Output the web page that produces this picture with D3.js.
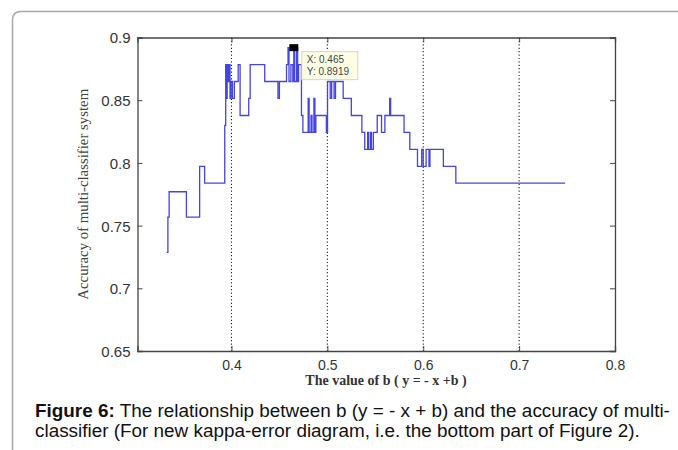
<!DOCTYPE html>
<html>
<head>
<meta charset="utf-8">
<script src="https://cdn.jsdelivr.net/npm/d3@7"></script>
<style>
  body { margin: 0; background: #fff; }
  svg { display: block; }
</style>
</head>
<body>
<div id="chart"></div>
<script>
"use strict";

/********/
/* data */
/********/

// b (y = -x + b) where the accuracy changes, and the accuracy from there on
const bValues = [
  0.3324, 0.3337, 0.3350, 0.3530, 0.3668, 0.3720, 0.3930, 0.3940, 0.3950, 0.3955,
  0.3965, 0.3975, 0.3985, 0.3995, 0.4010, 0.4030, 0.4070, 0.4090, 0.4180, 0.4195,
  0.4347, 0.4485, 0.4500, 0.4574, 0.4590, 0.4600, 0.4620, 0.4640, 0.4650, 0.4660,
  0.4680, 0.4690, 0.4700, 0.4730, 0.4745, 0.4800, 0.4810, 0.4830, 0.4840, 0.4860,
  0.4870, 0.4880, 0.4990, 0.5002, 0.5030, 0.5045, 0.5070, 0.5085, 0.5165, 0.5250,
  0.5360, 0.5390, 0.5420, 0.5430, 0.5450, 0.5460, 0.5480, 0.5520, 0.5565, 0.5600,
  0.5650, 0.5660, 0.5800, 0.5860, 0.5940, 0.5984, 0.6000, 0.6030, 0.6060, 0.6070,
  0.6210, 0.6340, 0.7480
];
const accuracy = [
  0.7286, 0.7568, 0.7770, 0.7568, 0.7973, 0.7838, 0.8300, 0.8784, 0.8514, 0.8784,
  0.8649, 0.8784, 0.8514, 0.8649, 0.8514, 0.8649, 0.8784, 0.8378, 0.8514, 0.8784,
  0.8649, 0.8514, 0.8649, 0.8784, 0.8919, 0.8649, 0.8784, 0.8649, 0.8919, 0.8649,
  0.8919, 0.8649, 0.8784, 0.8378, 0.8243, 0.8514, 0.8243, 0.8378, 0.8243, 0.8514,
  0.8243, 0.8378, 0.8243, 0.8649, 0.8514, 0.8649, 0.8514, 0.8649, 0.8514, 0.8378,
  0.8243, 0.8108, 0.8243, 0.8108, 0.8243, 0.8108, 0.8243, 0.8378, 0.8243, 0.8378,
  0.8514, 0.8378, 0.8243, 0.8108, 0.7973, 0.8108, 0.7973, 0.8108, 0.7973, 0.8108,
  0.7973, 0.7838, 0.7838
];

const xTicks = [0.4, 0.5, 0.6, 0.7, 0.8];
const yTicks = [0.65, 0.7, 0.75, 0.8, 0.85, 0.9];
const gridTicks = [0.4, 0.5, 0.6, 0.7];

const dataTip = { b: 0.465, acc: 0.8919, labels: ["X: 0.465", "Y: 0.8919"] };

const xLabel = "The value of b ( y = - x +b )";
const yLabel = "Accuracy of multi-classifier system";
const captionBold = "Figure 6:";
const captionLines = [
  " The relationship between b (y = - x + b) and the accuracy of multi-",
  "classifier (For new kappa-error diagram, i.e. the bottom part of Figure 2)."
];

/********/
/* view */
/********/

const width = 678;
const height = 450;
const plot = { left: 137.5, right: 615, top: 37.5, bottom: 351 };

const svg = d3
  .select("#chart")
  .append("svg")
  .attr("width", width)
  .attr("height", height);

// outer frame of the figure
svg
  .append("path")
  .attr("d", "M12.5,470 L12.5,20 Q12.5,11.5 21,11.5 L700,11.5")
  .attr("fill", "none")
  .attr("stroke", "#a8a8a8")
  .attr("stroke-width", 1.5);

const x = d3.scaleLinear().domain([0.302, 0.8]).range([plot.left, plot.right]);
const y = d3.scaleLinear().domain([0.65, 0.9]).range([plot.bottom, plot.top]);

// dotted grid
svg
  .append("g")
  .selectAll("line")
  .data(gridTicks)
  .join("line")
  .attr("x1", d => x(d))
  .attr("x2", d => x(d))
  .attr("y1", plot.top)
  .attr("y2", plot.bottom)
  .attr("stroke", "#222")
  .attr("stroke-width", 1.1)
  .attr("stroke-dasharray", "1.2,2.2");

// axes, ticks inside like matlab
const tickSize = 5;
const axisBottom = svg
  .append("g")
  .attr("transform", "translate(0," + plot.bottom + ")")
  .call(d3.axisBottom(x).tickValues(xTicks).tickSize(-tickSize).tickPadding(9).tickFormat(d3.format("")));
const axisTop = svg
  .append("g")
  .attr("transform", "translate(0," + plot.top + ")")
  .call(d3.axisTop(x).tickValues(xTicks).tickSize(-tickSize).tickFormat(""));
const axisLeft = svg
  .append("g")
  .attr("transform", "translate(" + plot.left + ",0)")
  .call(d3.axisLeft(y).tickValues(yTicks).tickSize(-tickSize).tickPadding(7).tickFormat(d3.format("")));
const axisRight = svg
  .append("g")
  .attr("transform", "translate(" + plot.right + ",0)")
  .call(d3.axisRight(y).tickValues(yTicks).tickSize(-tickSize).tickFormat(""));

[axisBottom, axisTop, axisLeft, axisRight].forEach(function(g) {
  g.select(".domain").attr("stroke", "#444").attr("stroke-width", 1.3);
  g.selectAll(".tick line").attr("stroke", "#444");
  g.selectAll("text")
    .attr("fill", "#333")
    .attr("font-family", "Liberation Sans, Arial, sans-serif");
});
axisBottom.selectAll("text").attr("font-size", "14px");
axisLeft.selectAll("text").attr("font-size", "15px").attr("dy", "0.36em");

// the accuracy curve
const points = bValues.map((b, i) => [b, accuracy[i]]);
const line = d3
  .line()
  .x(d => x(d[0]))
  .y(d => y(d[1]))
  .curve(d3.curveStepAfter);

svg
  .append("path")
  .datum(points)
  .attr("d", line)
  .attr("fill", "none")
  .attr("stroke", "#4444e2")
  .attr("stroke-width", 1.3);

// data tip
svg
  .append("rect")
  .attr("x", x(dataTip.b) - 4.5)
  .attr("y", y(dataTip.acc) - 3.5)
  .attr("width", 9)
  .attr("height", 7)
  .attr("fill", "#000");

const tip = svg.append("g").attr("transform", "translate(" + (x(dataTip.b) + 8) + "," + (y(dataTip.acc) + 4) + ")");
tip
  .append("rect")
  .attr("width", 56)
  .attr("height", 28)
  .attr("fill", "#fdfde6")
  .attr("stroke", "#d6d6c0")
  .attr("stroke-width", 1);
tip
  .selectAll("text")
  .data(dataTip.labels)
  .join("text")
  .attr("x", 5)
  .attr("y", (d, i) => 11.5 + i * 11.5)
  .attr("font-family", "Liberation Sans, Arial, sans-serif")
  .attr("font-size", "10px")
  .attr("fill", "#444")
  .text(d => d);

// axis titles
svg
  .append("text")
  .attr("x", 386)
  .attr("y", 385)
  .attr("text-anchor", "middle")
  .attr("font-family", "Liberation Serif, Times New Roman, serif")
  .attr("font-weight", "bold")
  .attr("font-size", "14px")
  .attr("fill", "#333")
  .text(xLabel);

svg
  .append("text")
  .attr("transform", "translate(" + 88 + "," + (plot.top + plot.bottom) / 2 + ") rotate(-90)")
  .attr("text-anchor", "middle")
  .attr("font-family", "Liberation Serif, Times New Roman, serif")
  .attr("font-size", "14.8px")
  .attr("fill", "#444")
  .text(yLabel);

// caption
const caption = svg
  .append("g")
  .attr("font-family", "Liberation Sans, Arial, sans-serif")
  .attr("font-size", "18.9px")
  .attr("fill", "#111");

const first = caption.append("text").attr("x", 35).attr("y", 417);
first.append("tspan").attr("font-weight", "bold").text(captionBold);
first.append("tspan").text(captionLines[0]);
caption.append("text").attr("x", 35).attr("y", 437).text(captionLines[1]);
</script>
</body>
</html>
